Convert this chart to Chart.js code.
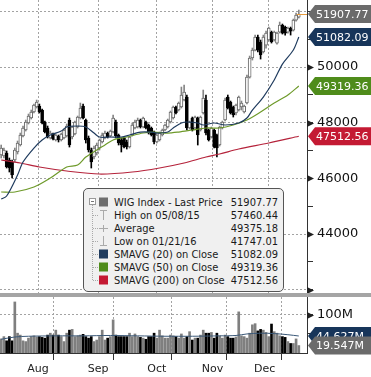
<!DOCTYPE html>
<html>
<head>
<meta charset="utf-8">
<title>WIG Index</title>
<script src="https://cdn.jsdelivr.net/npm/chart.js@4.4.1/dist/chart.umd.min.js"></script>
<style>
  html, body { margin: 0; padding: 0; background: #fff; }
  #wrap { position: relative; width: 371px; height: 377px; overflow: hidden; }
  #price { position: absolute; left: 0; top: 0; }
  #vol { position: absolute; left: 0; top: 297px; }
  #sep { position: absolute; left: 0; top: 293px; width: 371px; height: 4px; background: #a5a5a5; }
  #legend { position: absolute; left: 83px; top: 188px; width: 199px; height: 102px; background: #f0f0f0;
            border: 1px solid #555; border-radius: 5px;
            font: 11px "DejaVu Sans Condensed", "DejaVu Sans", sans-serif; color: #1a1a1a; }
  #legend svg { position: absolute; left: 0; top: 0; }
  #legend .row { position: absolute; left: 30px; right: 5px; height: 13px; line-height: 13px; white-space: nowrap; }
  #legend .val { position: absolute; right: 0; top: 0; }
</style>
</head>
<body>
<div id="wrap">
  <canvas id="price" width="371" height="293"></canvas>
  <div id="sep"></div>
  <canvas id="vol" width="371" height="80"></canvas>
  <div id="legend"></div>
</div>
<script>
// daily OHLC, late Jul -> end of Dec (one entry per trading day)
const opens = [46839,46803,46911,46659,46587,46659,46947,47198,47522,47737,
  47989,48168,48384,48563,48599,48456,48025,47809,47450,47593,
  47378,47522,47378,47450,47522,48096,47486,47593,47845,48168,
  48599,48096,47450,47018,46767,46911,47090,47306,47450,47629,
  47522,47665,48025,47557,47378,47450,47306,47126,47557,47809,
  47845,48096,47845,48025,47917,47809,47665,47306,47378,47557,
  47737,47845,48025,48168,48563,48456,48563,48815,48923,47809,
  48168,47809,48168,47737,48348,48815,47737,47486,47737,47557,
  47198,47809,48096,48923,48743,48563,48348,48456,48563,48384,
  48707,49641,50324,50611,51079,50899,50540,50791,50971,51258,
  50971,50863,51258,51510,51438,51258,51402,51330,51689,51797];
const highs = [47198,47090,46983,46731,46659,47090,47342,47629,47881,48096,
  48312,48456,48671,48815,48671,48492,48060,47881,47701,47629,
  47593,47557,47629,47773,47953,48168,47881,48060,48240,48707,
  48671,48132,47522,47090,47162,47270,47414,47629,47701,47665,
  47737,48276,48096,47593,47450,47486,47378,47522,47989,48096,
  48168,48132,48204,48060,47953,47845,47701,47593,47665,47773,
  47953,48132,48420,48599,48599,48743,49282,49354,48995,48060,
  48204,48240,48204,48240,49174,48995,47773,47845,47773,47593,
  47881,48060,48887,48995,48779,48599,48671,48959,48779,48635,
  49713,50396,50683,51150,51150,50971,51150,51294,51438,51294,
  51294,51258,51618,51546,51474,51438,51438,51725,51941,52049];
const lows = [46731,46731,46372,46228,46012,46587,46875,47162,47486,47701,
  47953,48132,48348,48528,48348,47953,47629,47450,47414,47378,
  47342,47306,47342,47414,47486,47126,47414,47557,47809,48132,
  48132,47270,46947,46372,46695,46839,47018,47270,47414,47450,
  47486,47629,47450,47198,46947,47090,47054,47090,47522,47773,
  47809,47809,47809,47773,47593,47522,47234,47270,47342,47522,
  47701,47809,47989,48132,48312,48420,48528,48779,47737,47773,
  47701,47773,47198,47701,48312,47557,47342,47450,47090,46767,
  47162,47773,48060,48492,48312,48204,48276,48420,48456,48348,
  48671,49605,50252,50576,50540,50288,50504,50683,50935,50863,
  50935,50827,51222,51186,51150,51222,51150,51294,51653,51761];
const closes = [47090,47018,46408,46372,46120,47018,47270,47557,47809,48025,
  48240,48384,48635,48743,48384,47989,47665,47486,47629,47414,
  47557,47378,47593,47737,47881,47198,47845,48025,48204,48528,
  48168,47378,47018,46587,47090,47198,47378,47557,47629,47486,
  47701,48168,47522,47270,47198,47126,47126,47486,47917,48025,
  48096,47845,48168,47809,47629,47557,47306,47557,47629,47737,
  47917,48096,48384,48563,48348,48707,48995,49102,47809,48025,
  47737,48204,47557,48204,48887,47629,47378,47809,47126,47090,
  47845,48025,48815,48528,48348,48276,48635,48923,48707,48599,
  49641,50324,50611,51079,50611,50432,51079,51222,51402,50899,
  51258,51222,51510,51222,51222,51402,51294,51689,51869,51907.77];
// volume in millions
const volumes = [37,43,32,43,32,134,52,47,32,30,
  39,43,45,42,43,41,39,47,52,47,
  60,47,43,30,52,60,62,43,45,47,
  49,43,39,43,30,34,43,60,34,39,
  43,87,47,43,43,43,43,52,43,50,
  43,41,39,36,43,43,52,39,60,45,
  39,39,47,45,43,39,50,39,43,56,
  34,39,39,47,60,52,52,54,39,52,
  45,39,47,43,39,39,42,108,45,43,
  39,52,74,77,58,62,60,54,43,76,
  56,52,45,43,41,30,25,25,37,19.547];

// moving averages (day index -> value)
const sma20Days = [0,2,6,8,12,15,18,22,24,28,31,34,36,40,44,47,51,55,57,61,63,66,68,72,74,78,82,87,90,92,96,100,103,107,109];
const sma20Values = [45258,45366,46120,46587,47090,47378,47557,47701,47845,47881,47845,47629,47486,47486,47486,47557,47665,47665,47629,47665,47809,47989,48025,47989,47917,47989,47917,47989,48168,48456,48923,49534,50108,50611,51082.09];
const sma50Days = [0,5,12,18,24,28,31,35,38,41,46,52,56,61,65,70,75,80,85,90,95,100,105,109];
const sma50Values = [45509,45509,45689,46012,46408,46480,46767,47018,47198,47378,47486,47629,47665,47629,47665,47737,47809,47809,47917,48096,48384,48707,48995,49319.36];
const sma200Days = [0,7,14,24,36,48,58,67,75,80,87,98,109];
const sma200Values = [46659,46551,46408,46264,46156,46228,46372,46551,46767,46875,47054,47270,47512.56];
const volMaDays = [0,5,10,20,30,40,50,60,70,80,86,90,95,100,105,109];
const volMaValues = [36,42,44,45,45,46,45,44,44,45,46,50,52,51,48,44.627];

// axes
const monthNames = ['Aug', 'Sep', 'Oct', 'Nov', 'Dec'];
const monthEdges = [2.5, 24.5, 46.5, 67.5, 87.5, 108.5];
const monthCentres = [13.5, 35.5, 57, 77.4, 96.5];
const priceTicks = [42000,43000,44000,45000,46000,47000,48000,49000,50000,51000,52000];
const priceLabels = [44000, 46000, 48000, 50000];
const volTicks = [50, 100];

// legend stats for the whole history
const periodHigh = 57460.44;
const periodAverage = 49375.18;
const periodLow = 41747.01;

const xMin = -0.43, xMax = 112;
const gridColor = '#a3a3a3';
const navy = '#1f3b5e', green = '#6e9a2a', red = '#b5233b';

Chart.defaults.font.family = '"DejaVu Sans", sans-serif';

const days = closes.map((c, i) => i);
const up = closes.map((c, i) => c >= opens[i]);
const last = closes.length - 1;

function pts(xs, ys) {
  return xs.map((x, i) => ({ x: x, y: ys[i] }));
}

function drawTag(ctx, x0, cy, fill, text) {
  ctx.beginPath();
  ctx.moveTo(x0 + 1, cy);
  ctx.lineTo(x0 + 8, cy - 9);
  ctx.lineTo(371, cy - 9);
  ctx.lineTo(371, cy + 9);
  ctx.lineTo(x0 + 8, cy + 9);
  ctx.closePath();
  ctx.fillStyle = fill;
  ctx.fill();
  ctx.fillStyle = '#fff';
  ctx.font = '11px "DejaVu Sans", sans-serif';
  ctx.textBaseline = 'middle';
  ctx.textAlign = 'left';
  ctx.fillText(text, x0 + 9, cy + 1);
}

// arrow heads on the labelled ticks, last price line and the value tags
const axisMarks = {
  id: 'axisMarks',
  afterDraw(chart, args, opts) {
    const ctx = chart.ctx;
    const right = chart.chartArea.right;
    const y = chart.scales.y;
    ctx.save();
    ctx.fillStyle = '#222';
    opts.arrows.forEach(v => {
      const py = Math.round(y.getPixelForValue(v)) + 0.5;
      ctx.beginPath();
      ctx.moveTo(right, py - 3.5);
      ctx.lineTo(right + 7, py);
      ctx.lineTo(right, py + 3.5);
      ctx.closePath();
      ctx.fill();
    });
    if (opts.lastValue !== undefined) {
      const py = Math.round(y.getPixelForValue(opts.lastValue)) + 0.5;
      const px = chart.scales.x.getPixelForValue(last);
      ctx.strokeStyle = '#e89b3c';
      ctx.lineWidth = 1;
      ctx.beginPath();
      ctx.moveTo(px - 2, py);
      ctx.lineTo(right, py);
      ctx.stroke();
    }
    opts.tags.forEach(t => drawTag(ctx, right, y.getPixelForValue(t.value), t.color, t.text));
    ctx.restore();
  }
};

function fitY(width) {
  return s => { s.width = width; s.paddingTop = 0; s.paddingBottom = 0; };
}

// price panel
new Chart(document.getElementById('price'), {
  type: 'bar',
  data: {
    datasets: [
      { type: 'line', data: pts(sma20Days, sma20Values), borderColor: navy, borderWidth: 1.2, pointRadius: 0, tension: 0.3, order: 1 },
      { type: 'line', data: pts(sma50Days, sma50Values), borderColor: green, borderWidth: 1.2, pointRadius: 0, tension: 0.3, order: 1 },
      { type: 'line', data: pts(sma200Days, sma200Values), borderColor: red, borderWidth: 1.2, pointRadius: 0, tension: 0.3, order: 1 },
      {
        data: days.map(i => ({ x: i, y: [lows[i], highs[i]] })),
        backgroundColor: up.map(u => u ? '#858585' : '#000'),
        barThickness: 1, grouped: false, order: 3
      },
      {
        data: days.map(i => ({ x: i, y: [opens[i], closes[i]] })),
        backgroundColor: up.map(u => u ? '#fff' : '#000'),
        borderColor: up.map(u => u ? '#6a6a6a' : '#000'),
        borderWidth: 1, borderSkipped: false,
        barThickness: 3, grouped: false, order: 2
      }
    ]
  },
  options: {
    responsive: false,
    animation: false,
    events: [],
    layout: { padding: 0 },
    plugins: {
      legend: { display: false },
      tooltip: { enabled: false },
      axisMarks: {
        arrows: priceLabels.concat([42000]),
        lastValue: closes[last],
        tags: [
          { value: sma200Values[sma200Values.length - 1], color: '#c41a33', text: sma200Values[sma200Values.length - 1].toFixed(2) },
          { value: sma50Values[sma50Values.length - 1], color: '#4f8c1b', text: sma50Values[sma50Values.length - 1].toFixed(2) },
          { value: sma20Values[sma20Values.length - 1], color: '#17355a', text: sma20Values[sma20Values.length - 1].toFixed(2) },
          { value: closes[last], color: '#6b6b6b', text: closes[last].toFixed(2) }
        ]
      }
    },
    scales: {
      x: {
        type: 'linear', min: xMin, max: xMax, offset: false,
        afterBuildTicks: s => { s.ticks = monthEdges.map(v => ({ value: v })); },
        ticks: { display: false },
        grid: { color: c => c.index === 0 ? 'transparent' : gridColor, drawTicks: false },
        border: { display: false, dash: [2, 2] },
        afterFit: s => { s.height = 0; s.paddingLeft = 0; s.paddingRight = 0; }
      },
      y: {
        type: 'linear', position: 'right', min: 41880, max: 52410,
        afterBuildTicks: s => { s.ticks = priceTicks.map(v => ({ value: v })); },
        ticks: {
          callback: v => priceLabels.includes(v) ? String(v) : '',
          color: '#111', font: { size: 13 }, padding: 4
        },
        grid: {
          color: c => c.tick && c.tick.value % 2000 === 0 ? gridColor : 'transparent',
          tickColor: '#333', tickLength: 6, tickBorderDash: [], tickWidth: 1
        },
        border: { display: true, color: '#333', dash: [2, 2] },
        afterFit: fitY(64)
      }
    }
  },
  plugins: [axisMarks]
});

// volume panel
const volXTicks = monthEdges.concat(monthCentres).sort((a, b) => a - b);
new Chart(document.getElementById('vol'), {
  type: 'bar',
  data: {
    datasets: [
      { type: 'line', data: pts(volMaDays, volMaValues), borderColor: '#3a5878', borderWidth: 1, pointRadius: 0, tension: 0.3, order: 1 },
      {
        data: days.map(i => ({ x: i, y: volumes[i] })),
        backgroundColor: up.map(u => u ? '#7f7f7f' : '#000'),
        barThickness: 2, grouped: false, order: 2
      }
    ]
  },
  options: {
    responsive: false,
    animation: false,
    events: [],
    layout: { padding: 0 },
    plugins: {
      legend: { display: false },
      tooltip: { enabled: false },
      axisMarks: {
        arrows: [100],
        tags: [
          { value: volMaValues[volMaValues.length - 1], color: '#17355a', text: volMaValues[volMaValues.length - 1].toFixed(3) + 'M' },
          { value: volumes[last], color: '#6b6b6b', text: volumes[last].toFixed(3) + 'M' }
        ]
      }
    },
    scales: {
      x: {
        type: 'linear', min: xMin, max: xMax, offset: false,
        afterBuildTicks: s => { s.ticks = volXTicks.map(v => ({ value: v })); },
        ticks: {
          autoSkip: false, maxRotation: 0, padding: 3,
          color: '#222', font: { size: 11 },
          callback: (v, i) => i % 2 === 1 ? monthNames[(i - 1) / 2] : ''
        },
        grid: {
          color: c => (c.index % 2 === 0 && c.index > 0) ? gridColor : 'transparent',
          tickColor: c => c.index % 2 === 0 ? '#333' : 'transparent',
          tickLength: 7, tickBorderDash: []
        },
        border: { display: true, color: '#333', dash: [2, 2] },
        afterFit: s => { s.height = 24; s.paddingLeft = 0; s.paddingRight = 0; }
      },
      y: {
        type: 'linear', position: 'right', min: 0, max: 147,
        afterBuildTicks: s => { s.ticks = volTicks.map(v => ({ value: v })); },
        ticks: {
          callback: v => v === 100 ? '100M' : '',
          color: '#111', font: { size: 13 }, padding: 4
        },
        grid: {
          color: c => c.tick && c.tick.value === 100 ? gridColor : 'transparent',
          tickColor: '#333', tickLength: 6, tickBorderDash: []
        },
        border: { display: true, color: '#333', dash: [2, 2] },
        afterFit: fitY(64)
      }
    }
  },
  plugins: [axisMarks]
});

// legend box
const legendNames = ['WIG Index - Last Price', 'High on 05/08/15', 'Average', 'Low on 01/21/16',
  'SMAVG (20) on Close', 'SMAVG (50) on Close', 'SMAVG (200) on Close'];
const legendValues = [closes[last], periodHigh, periodAverage, periodLow,
  sma20Values[sma20Values.length - 1], sma50Values[sma50Values.length - 1], sma200Values[sma200Values.length - 1]];
const legend = document.getElementById('legend');
let svg = '<svg width="30" height="102">';
svg += '<line x1="8.5" y1="16" x2="8.5" y2="91.5" stroke="#aaa" stroke-dasharray="1,1"/>';
for (let k = 1; k < 7; k++) {
  const cy = 13 + 13 * k + 0.5;
  svg += `<line x1="9" y1="${cy}" x2="14" y2="${cy}" stroke="#aaa" stroke-dasharray="1,1"/>`;
}
svg += '<rect x="5.5" y="9.5" width="6" height="6" fill="#fff" stroke="#999"/>';
svg += '<line x1="7" y1="12.5" x2="10" y2="12.5" stroke="#777"/>';
svg += '<rect x="15" y="8.5" width="9" height="9" fill="#6e6e6e"/>';
svg += '<g stroke="#aaa" fill="none">';
svg += '<line x1="16" y1="21.5" x2="23" y2="21.5"/><line x1="19.5" y1="21.5" x2="19.5" y2="31"/>';
svg += '<line x1="15" y1="39.5" x2="24" y2="39.5"/><line x1="19.5" y1="36" x2="19.5" y2="43"/>';
svg += '<line x1="19.5" y1="47" x2="19.5" y2="56.5"/><line x1="16" y1="56.5" x2="23" y2="56.5"/>';
svg += '</g>';
[navy, '#4f8c1b', '#c41a33'].forEach((col, k) => {
  svg += `<rect x="15" y="${60.5 + 13 * k}" width="9" height="9" fill="${col}"/>`;
});
svg += '</svg>';
legend.innerHTML = svg;
legendNames.forEach((name, k) => {
  const row = document.createElement('div');
  row.className = 'row';
  row.style.top = (6.5 + 13 * k) + 'px';
  row.innerHTML = `${name}<span class="val">${legendValues[k].toFixed(2)}</span>`;
  legend.appendChild(row);
});
</script>
</body>
</html>
